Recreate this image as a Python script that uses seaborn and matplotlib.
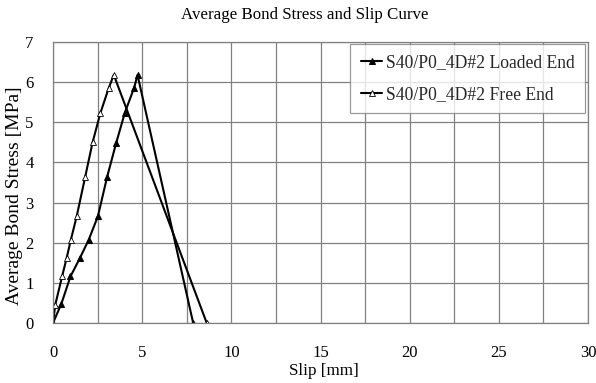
import matplotlib
matplotlib.use("Agg")
import matplotlib.pyplot as plt
import seaborn as sns
import pandas as pd
from matplotlib.ticker import MultipleLocator

sns.set_theme(style="white")
plt.rcParams['font.family'] = ['Liberation Serif', 'DejaVu Serif']

loaded_slip = [0.0, 0.47, 0.98, 1.50, 2.00, 2.52, 3.03, 3.54, 4.03, 4.55, 4.74, 7.86]
loaded_stress = [0.0, 0.48, 1.16, 1.61, 2.07, 2.66, 3.63, 4.48, 5.24, 5.86, 6.18, 0.0]
free_slip = [0.0, 0.13, 0.51, 0.76, 1.00, 1.33, 1.80, 2.22, 2.65, 3.13, 3.41, 8.62]
free_stress = [0.0, 0.46, 1.16, 1.61, 2.07, 2.66, 3.63, 4.50, 5.22, 5.86, 6.18, 0.0]
labels = ["S40/P0_4D#2 Loaded End", "S40/P0_4D#2 Free End"]

df_l = pd.DataFrame({"slip": loaded_slip, "stress": loaded_stress})
df_f = pd.DataFrame({"slip": free_slip, "stress": free_stress})

fig = plt.figure(figsize=(5.96, 3.83), dpi=100)
ax = fig.add_axes([53/596, 1-323/383, (588-53)/596, (323-42)/383])

sns.lineplot(data=df_l, x="slip", y="stress", sort=False, estimator=None, ax=ax,
             color="black", lw=1.5, marker="^", markersize=5,
             markerfacecolor="black", markeredgecolor="black", label=labels[0])
sns.lineplot(data=df_f, x="slip", y="stress", sort=False, estimator=None, ax=ax,
             color="black", lw=1.5, marker="^", markersize=5,
             markerfacecolor="white", markeredgecolor="black", markeredgewidth=0.6,
             label=labels[1])

ax.set_xlim(0, 30)
ax.set_ylim(0, 7)
ax.xaxis.set_major_locator(MultipleLocator(5))
ax.xaxis.set_minor_locator(MultipleLocator(2.5))
ax.yaxis.set_major_locator(MultipleLocator(1))
ax.grid(True, which="both", axis="x", color="#808080", lw=0.9)
ax.grid(True, which="major", axis="y", color="#808080", lw=0.9)
ax.tick_params(axis="both", which="both", length=0, labelsize=12, colors="black")
ax.tick_params(axis="x", pad=16)
ax.tick_params(axis="y", pad=14)
for s in ax.spines.values():
    s.set_color("#808080")
    s.set_linewidth(0.9)

ax.set_xlabel("Slip [mm]", fontsize=12.3, labelpad=0, color="black")
ax.xaxis.set_label_coords(0.507, -0.142)
ax.set_ylabel("Average Bond Stress [MPa]", fontsize=14, labelpad=0, color="black")
ax.yaxis.set_label_coords(-0.057, 0.452)
fig.text(305/596, 1-15/383, "Average Bond Stress and Slip Curve", ha="center", va="center",
         fontsize=12.2, color="black")

leg = ax.legend(loc="upper right", bbox_to_anchor=(0.9944, 0.9929), fontsize=12.7,
                frameon=True, fancybox=False, edgecolor="#808080", handlelength=1.2,
                handletextpad=0.2, borderpad=0.6, labelspacing=0.8, borderaxespad=0)
leg.get_frame().set_linewidth(0.9)

fig.savefig("out.png", dpi=100)
